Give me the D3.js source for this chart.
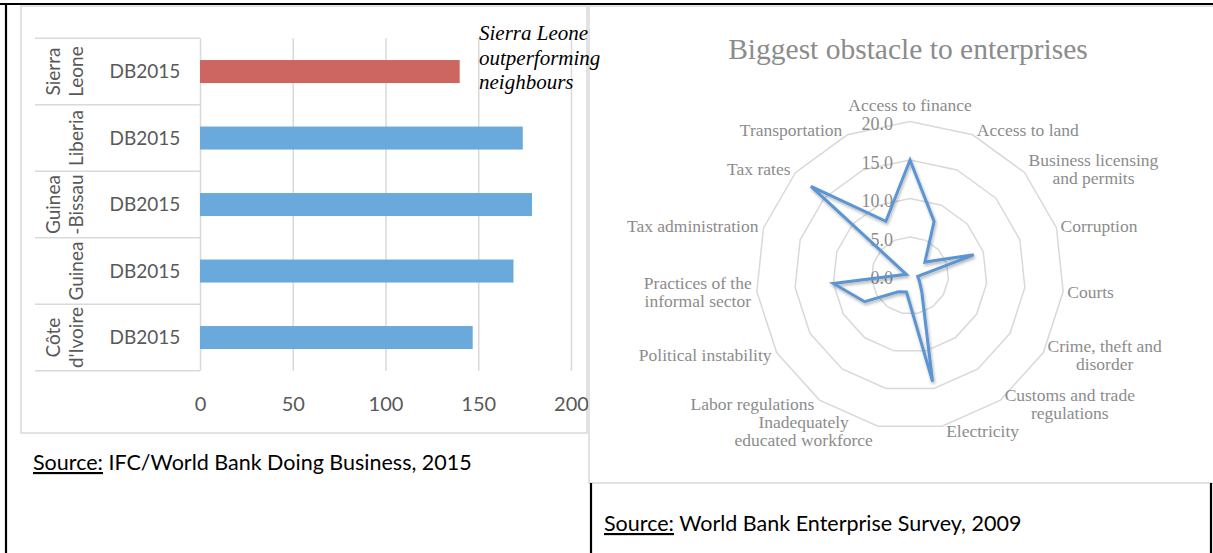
<!DOCTYPE html>
<html><head><meta charset="utf-8">
<script src="https://cdn.jsdelivr.net/npm/d3@7"></script>
<style>body{margin:0;background:#fff}</style>
</head><body>
<svg id="c" width="1213" height="553" xmlns="http://www.w3.org/2000/svg"></svg>
<script>
// ---------- data ----------
const countryKeys = ["Sierra Leone","Liberia","Guinea-Bissau","Guinea","Côte d'Ivoire"];
const countryLines = [["Sierra","Leone"],["Liberia"],["Guinea","-Bissau"],["Guinea"],["Côte","d'Ivoire"]];
const periods = ["DB2015","DB2015","DB2015","DB2015","DB2015"];
const dbRank = [140,174,179,169,147];
const barTicks = [0,50,100,150,200];
const annotation = ["Sierra Leone","outperforming","neighbours"];

const radarTitle = "Biggest obstacle to enterprises";
const obstacles = ["Access to finance","Access to land","Business licensing\nand permits","Corruption","Courts","Crime, theft and\ndisorder","Customs and trade\nregulations","Electricity","Inadequately\neducated workforce","Labor regulations","Political instability","Practices of the\ninformal sector","Tax administration","Tax rates","Transportation"];
const obstacleValues = [15.0,7.7,2.6,8.7,1.0,1.4,2.6,14.1,2.2,2.6,6.8,10.0,0.5,17.3,7.7];
const radarTicks = [0,5,10,15,20];

const sourceLeft = ["Source:"," IFC/World Bank Doing Business, 2015"];
const sourceRight = ["Source:"," World Bank Enterprise Survey, 2009"];

// ---------- drawing ----------
const svg = d3.select("#c");
svg.append("rect").attr("width",1213).attr("height",553).attr("fill","#fff");

const grid = "#d9d9d9", axisText = "#595959", radarText = "#8c8c8c";

// left panel box
svg.append("rect").attr("x",21).attr("y",6).attr("width",566).attr("height",427)
  .attr("fill","#fff").attr("stroke",grid).attr("stroke-width",1.5);

// ----- bar chart -----
const x = d3.scaleLinear().domain([0,200]).range([200,571]);
const y = d3.scaleBand().domain(countryKeys).range([38.3,370.8]).paddingInner(0.654).paddingOuter(0.327);

const gx = svg.append("g").attr("transform","translate(0,370.8)")
  .call(d3.axisBottom(x).tickValues(barTicks).tickSize(-332.5).tickPadding(26));
gx.select(".domain").remove();
gx.selectAll(".tick line").attr("stroke",grid).attr("stroke-width",1.5);
gx.selectAll(".tick text").attr("fill",axisText).attr("font-family","Lato").attr("font-size",20);

// category table lines
const step = y.step(), y0 = y.range()[0];
svg.append("g").selectAll("line").data(d3.range(countryKeys.length+1)).join("line")
  .attr("x1",35).attr("x2",200).attr("y1",i=>y0+i*step).attr("y2",i=>y0+i*step)
  .attr("stroke",grid).attr("stroke-width",1.5);

svg.append("g").selectAll("rect").data(countryKeys).join("rect")
  .attr("x",x(0)).attr("y",d=>y(d)).attr("height",y.bandwidth())
  .attr("width",(d,i)=>x(dbRank[i])-x(0))
  .attr("fill",(d,i)=>i===0?"#cd6560":"#6aa9db");

svg.append("g").selectAll("text").data(countryKeys).join("text")
  .attr("x",145).attr("y",d=>y(d)+y.bandwidth()/2).attr("dy","0.35em")
  .attr("text-anchor","middle").attr("font-family","Lato").attr("font-size",19)
  .attr("fill",axisText).text((d,i)=>periods[i]);

countryKeys.forEach((k,i)=>{
  const cyb = y(k)+y.bandwidth()/2;
  const lines = countryLines[i];
  const t = svg.append("text").attr("transform",`translate(0,${cyb}) rotate(-90)`)
    .attr("text-anchor","middle").attr("font-family","Lato").attr("font-size",19).attr("fill",axisText);
  lines.forEach((ln,j)=>{
    const off = 76 - (lines.length-1-j)*23;
    t.append("tspan").attr("x",0).attr("y",off).attr("dy","0.35em").text(ln);
  });
});

// ----- radar -----
svg.append("rect").attr("x",589).attr("y",6).attr("width",630).attr("height",477)
  .attr("fill","#fff").attr("stroke",grid).attr("stroke-width",1.5);

const cx = 910, cy = 275.5;
const r = d3.scaleLinear().domain([0,20]).range([0,154]);
const n = obstacles.length, ang = 2*Math.PI/n;
const rg = svg.append("g").attr("transform",`translate(${cx},${cy})`);

const ringLine = d3.lineRadial().angle((d,i)=>i*ang).radius(d=>r(d)).curve(d3.curveLinearClosed);
rg.selectAll("path.ring").data(radarTicks.filter(t=>t>0)).join("path").attr("class","ring")
  .attr("d",t=>ringLine(d3.range(n).map(()=>t)))
  .attr("fill","none").attr("stroke",grid).attr("stroke-width",1.5);

svg.append("text").attr("x",908).attr("y",49).attr("dy","0.35em").attr("text-anchor","middle")
  .attr("font-family","Liberation Serif").attr("font-size",29.5).attr("fill",radarText).text(radarTitle);

rg.selectAll("text.tick").data(radarTicks).join("text").attr("class","tick")
  .attr("x",-17).attr("y",t=>-r(t)+2.5).attr("dy","0.35em").attr("text-anchor","end")
  .attr("font-family","Liberation Serif").attr("font-size",18).attr("fill",radarText)
  .text(d3.format(".1f"));

const defs = svg.append("defs");
defs.append("filter").attr("id","sh").attr("x","-20%").attr("y","-20%").attr("width","140%").attr("height","140%")
  .append("feDropShadow").attr("dx",1).attr("dy",2).attr("stdDeviation",1.5)
  .attr("flood-color","#000").attr("flood-opacity",0.3);

rg.append("path").attr("d",ringLine(obstacleValues)).attr("fill","none")
  .attr("stroke","#5b96d2").attr("stroke-width",3).attr("stroke-linejoin","miter")
  .attr("filter","url(#sh)");

const R = r(20);
obstacles.forEach((lab,i)=>{
  const a = i*ang, s = Math.sin(a), c = Math.cos(a);
  const vx = R*s, vy = -R*c;
  const lines = lab.split("\n");
  const t = rg.append("text").attr("text-anchor","middle").attr("font-family","Liberation Serif")
    .attr("font-size",17.5).attr("fill",radarText);
  lines.forEach((ln,j)=>t.append("tspan").attr("x",0).attr("y",(j-(lines.length-1)/2)*18).attr("dy","0.35em").text(ln));
  const w = t.node().getBBox().width;
  let tx, ty;
  if (i===0){ tx = vx; ty = vy-17; }
  else if (s>0){ tx = vx+4+w/2; ty = vy - c*5; }
  else { tx = vx-5-w/2; ty = vy - c*5; }
  t.attr("transform",`translate(${tx},${ty})`);
});

// annotation (drawn on top, overflows into right panel as in the original)
const an = svg.append("text").attr("font-family","Liberation Serif").attr("font-style","italic")
  .attr("font-size",21).attr("fill","#000");
annotation.forEach((ln,j)=>an.append("tspan").attr("x",479).attr("y",40+j*24.5).text(ln));

// ----- table borders -----
const tb = svg.append("g").attr("stroke","#000").attr("stroke-width",2.2);
tb.append("line").attr("x1",0).attr("x2",1213).attr("y1",4).attr("y2",4);
tb.append("line").attr("x1",6).attr("x2",6).attr("y1",3).attr("y2",553);
tb.append("line").attr("x1",591).attr("x2",591).attr("y1",483).attr("y2",553);
tb.append("line").attr("x1",1211).attr("x2",1211).attr("y1",483).attr("y2",553);

// ----- sources -----
function source(xp, yp, parts){
  const t = svg.append("text").attr("x",xp).attr("y",yp).attr("font-family","Lato")
    .attr("font-size",21.5).attr("fill","#000");
  t.append("tspan").attr("text-decoration","underline").text(parts[0]);
  t.append("tspan").text(parts[1]);
}
source(33,470,sourceLeft);
source(604,531,sourceRight);
</script>
</body></html>
